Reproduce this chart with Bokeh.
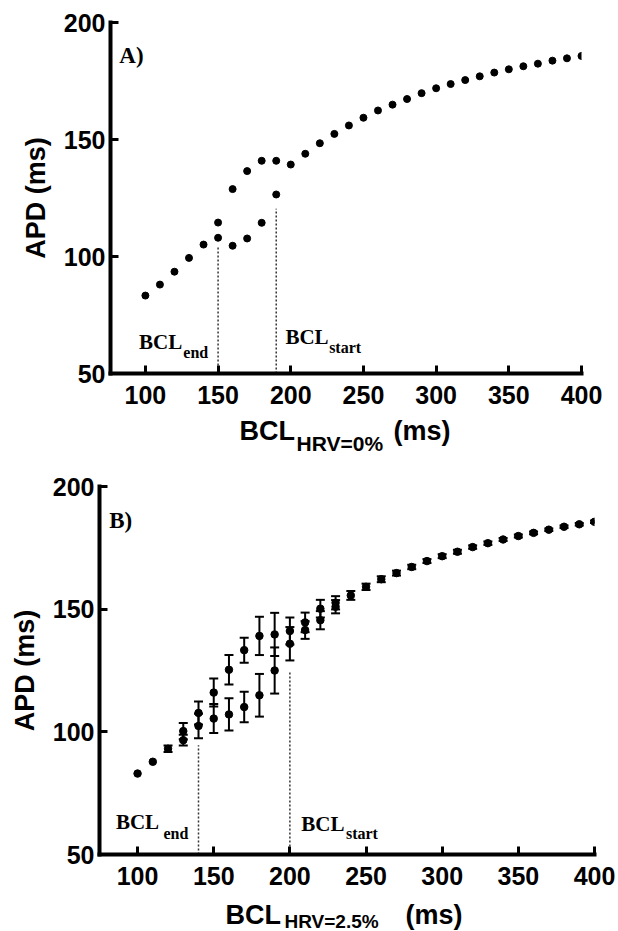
from bokeh.plotting import figure
from bokeh.models import ColumnDataSource, Whisker, TeeHead, FixedTicker, Label, Range1d
from bokeh.core.properties import value
from bokeh.layouts import column, row
from bokeh.embed import file_html
from bokeh.resources import INLINE

# ---------------- data ----------------
bcl = list(range(100, 401, 10))

# Panel A (HRV = 0%)
apd_a_main = [83.3, 88.0, 93.5, 99.4, 105.1, 114.5, 128.8, 136.5, 140.9, 140.9,
              139.3, 143.9, 148.4, 152.4, 156.0, 159.3, 162.4, 164.9, 167.3, 169.8,
              171.9, 173.7, 175.4, 177.0, 178.6, 180.0, 181.3, 182.4, 183.7, 184.7, 185.7]
bcl_a_alt = [150, 160, 170, 180, 190]
apd_a_alt = [108.0, 104.6, 107.7, 114.4, 126.5]
bcl_a_marks = [150, 190]          # BCL_end, BCL_start
apd_a_mark_tops = [104.7, 120.4]

# Panel B (HRV = 2.5%)
apd_b_main = [83.0, 87.8, 93.1, 100.3, 107.7, 116.0, 125.3, 133.3, 139.1, 139.7,
              141.1, 144.6, 150.2, 152.6, 155.6, 159.1, 162.2, 164.7, 167.2, 169.6,
              171.6, 173.4, 175.3, 176.9, 178.4, 179.8, 181.1, 182.4, 183.6, 184.6, 185.6]
err_b_main = [0.0, 0.0, 1.3, 3.3, 4.7, 5.7, 6.0, 5.1, 7.8, 8.8,
              5.5, 4.0, 3.6, 2.7, 1.8, 1.3, 1.2, 1.0, 0.9, 0.8,
              0.8, 0.8, 0.7, 0.7, 0.6, 0.6, 0.6, 0.5, 0.5, 0.5, 0.5]
bcl_b_alt = [130, 140, 150, 160, 170, 180, 190, 200, 210, 220, 230]
apd_b_alt = [96.6, 102.4, 105.4, 107.1, 110.1, 114.9, 125.0, 135.9, 141.5, 145.5, 151.0]
err_b_alt = [2.2, 5.0, 5.9, 6.6, 6.2, 8.7, 9.4, 6.8, 3.6, 3.7, 2.7]
bcl_b_marks = [140, 200]
apd_b_mark_tops = [94.5, 124.4]

x_ticks = [100, 150, 200, 250, 300, 350, 400]
y_ticks = [50, 100, 150, 200]

SANS = "Liberation Sans"
SERIF = "Liberation Serif"


def make_fig(width, height, left, right, top, bottom, x0):
    p = figure(width=width, height=height, output_backend="svg", toolbar_location=None,
               x_range=Range1d(x0, 400), y_range=Range1d(50, 200),
               min_border_left=left, min_border_right=right,
               min_border_top=top, min_border_bottom=bottom)
    p.outline_line_color = None
    p.grid.visible = False
    p.background_fill_color = "white"
    p.border_fill_color = "white"
    p.xaxis.ticker = FixedTicker(ticks=x_ticks)
    p.yaxis.ticker = FixedTicker(ticks=y_ticks)
    for ax in (p.xaxis[0], p.yaxis[0]):
        ax.axis_line_width = 4
        ax.axis_line_color = "black"
        ax.axis_line_cap = "square"
        ax.major_tick_line_width = 3
        ax.major_tick_line_color = "black"
        ax.major_tick_in = 8
        ax.major_tick_out = 0
        ax.minor_tick_line_color = None
        ax.major_label_text_font = SANS
        ax.major_label_text_font_style = "bold"
        ax.major_label_text_font_size = "25px"
        ax.major_label_text_color = "black"
    p.xaxis.major_label_standoff = 12
    p.yaxis.major_label_standoff = 5
    p.yaxis.axis_label = "APD (ms)"
    p.yaxis.axis_label_text_font = SANS
    p.yaxis.axis_label_text_font_style = "bold"
    p.yaxis.axis_label_text_font_size = "27px"
    p.yaxis.axis_label_text_color = "black"
    p.yaxis.axis_label_standoff = 10
    return p


def lab(p, text, x, y, size, font=SERIF):
    p.add_layout(Label(x=x, y=y, text=text, text_font=font, text_font_size=size,
                       text_font_style="bold", text_color="black",
                       text_baseline="alphabetic", text_align="left"))


def xlabel_fig(height, parts):
    """Text-only strip holding the x-axis title (with subscript); y measured from the top in px."""
    f = figure(width=618, height=height, output_backend="svg", toolbar_location=None,
               x_range=Range1d(0, 618), y_range=Range1d(height, 0),
               min_border_left=0, min_border_right=0, min_border_top=0, min_border_bottom=0,
               x_axis_type=None, y_axis_type=None)
    f.outline_line_color = None
    f.grid.visible = False
    for text, x, y, size in parts:
        f.text(x=[x], y=[y], text=[text], text_font=value(SANS), text_font_size=value(size),
               text_font_style="bold", text_color="black",
               text_baseline="alphabetic", text_align="left")
    return f


# ---------------- Panel A ----------------
pa = make_fig(618, 413, 110, 37, 22, 40, 76)
pa.segment(x0=bcl_a_marks, y0=[50, 50], x1=bcl_a_marks, y1=apd_a_mark_tops,
           line_color="#333333", line_width=1.5, line_dash="2 2")
pa.scatter(bcl, apd_a_main, marker="circle", size=7, color="black")
pa.scatter(bcl_a_alt, apd_a_alt, marker="circle", size=7, color="black")
lab(pa, "A)", 82.1, 185.9, "23px")
lab(pa, "BCL", 95.6, 63.4, "21px")
lab(pa, "end", 126.1, 59.1, "16px")
lab(pa, "BCL", 196.3, 65.4, "21px")
lab(pa, "start", 226.4, 61.2, "16px")
xa = xlabel_fig(50, [("BCL", 239, 17, "27px"), ("HRV=0%", 296, 30, "21px"),
                     ("(ms)", 393, 17, "27px")])

# ---------------- Panel B ----------------
pb = make_fig(618, 431, 99, 24, 23, 40, 75)
pb.segment(x0=bcl_b_marks, y0=[50, 50], x1=bcl_b_marks, y1=apd_b_mark_tops,
           line_color="#333333", line_width=1.5, line_dash="2 2")

main_keep = [i for i, e in enumerate(err_b_main) if e > 0]
src_main = ColumnDataSource(dict(
    x=[bcl[i] for i in main_keep],
    upper=[apd_b_main[i] + err_b_main[i] for i in main_keep],
    lower=[apd_b_main[i] - err_b_main[i] for i in main_keep]))
src_alt = ColumnDataSource(dict(
    x=bcl_b_alt,
    upper=[a + e for a, e in zip(apd_b_alt, err_b_alt)],
    lower=[a - e for a, e in zip(apd_b_alt, err_b_alt)]))
for src in (src_main, src_alt):
    pb.add_layout(Whisker(source=src, base="x", upper="upper", lower="lower",
                          line_width=2, line_color="black",
                          upper_head=TeeHead(size=9, line_width=2, line_color="black"),
                          lower_head=TeeHead(size=9, line_width=2, line_color="black")))
pb.scatter(bcl, apd_b_main, marker="circle", size=7.5, color="black")
pb.scatter(bcl_b_alt, apd_b_alt, marker="circle", size=7.5, color="black")
lab(pb, "B)", 81.4, 186.1, "23px")
lab(pb, "BCL", 85.8, 63.3, "21px")
lab(pb, "end", 117.0, 58.7, "16px")
lab(pb, "BCL", 207.5, 62.6, "21px")
lab(pb, "start", 236.8, 58.7, "16px")
xb = xlabel_fig(37, [("BCL", 225, 20, "27px"), ("HRV=2.5%", 284, 27, "19px"),
                     ("(ms)", 405, 20, "27px")])

# wrap each plot in its own row so the column does not align their frames
layout = column(row(pa), row(xa), row(pb), row(xb), spacing=0)
open("out.html", "w").write(file_html(layout, INLINE))
